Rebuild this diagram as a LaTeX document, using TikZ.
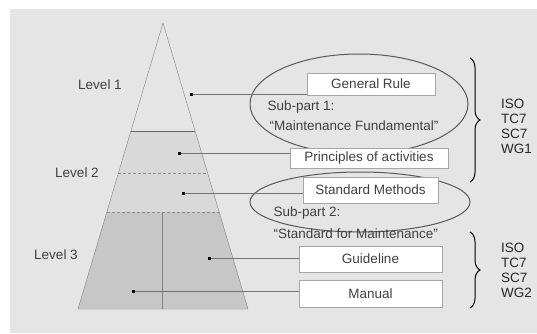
\documentclass[tikz,border=0pt]{standalone}
\usepackage{fontspec}
\setmainfont{Liberation Sans}
\usetikzlibrary{positioning,calc,decorations.pathreplacing}

\begin{document}
\begin{tikzpicture}[x=1pt,y=-1pt,
    every node/.style={font=\fontsize{13.5}{15}\selectfont,text=black!75},
    doc/.style={draw=black!35,fill=white,inner sep=0pt},
    dot/.style={fill=black,inner sep=0pt,minimum size=3pt},
    lead/.style={draw=black!55},
    bracket/.style={decorate,decoration={brace,amplitude=10pt},line width=1pt}]

  \useasboundingbox (0,0) rectangle (537,333);
  % gray background, white strip top and left
  \fill[black!10] (10,9) rectangle (537,333);

  % pyramid corners
  \coordinate (apex) at (163,23);
  \coordinate (bl) at (78,309);
  \coordinate (br) at (248,309);

  % shaded bands of the pyramid
  \begin{scope}
    \clip (apex) -- (br) -- (bl) -- cycle;
    \fill[black!10] (70,20) rectangle (260,131);
    \fill[black!15] (70,131) rectangle (260,212);
    \fill[black!22] (70,212) rectangle (260,310);
  \end{scope}
  \draw[black!50] (apex) -- (br) -- (bl) -- cycle;

  % level borders
  \draw[black!60] ($(apex)!0.378!(bl)$) -- ($(apex)!0.378!(br)$);
  \draw[black!45,densely dashed] ($(apex)!0.525!(bl)$) -- ($(apex)!0.525!(br)$);
  \draw[black!45,densely dashed] ($(apex)!0.661!(bl)$) -- ($(apex)!0.661!(br)$);
  \draw[black!50] (162,212) -- (162,309);

  % level labels
  \node (lv1) at (100,85) {Level 1};
  \node (lv2) at (77,173) {Level 2};
  \node (lv3) at (56,255) {Level 3};

  % ellipses round the sub-parts
  \draw[black!65,line width=1pt] (359,104) ellipse [x radius=109, y radius=50];
  \draw[black!65,line width=1pt] (360,202) ellipse [x radius=110, y radius=30];

  % documents
  \node[doc,minimum width=128pt,minimum height=22pt] (rule) at (371,84) {General Rule};
  \node[doc,minimum width=158pt,minimum height=20pt] (prin) at (369,158) {Principles of activities};
  \node[doc,minimum width=135pt,minimum height=26pt] (meth) at (370.5,190) {Standard Methods};
  \node[doc,minimum width=143pt,minimum height=26pt] (guide) at (370.5,259) {Guideline};
  \node[doc,minimum width=143pt,minimum height=27pt] (man) at (370.5,293.5) {Manual};

  % sub-part captions
  \node[anchor=west] (sp1) at (264,107) {Sub-part 1:};
  \node[anchor=west] (sp1t) at (266,126) {``Maintenance Fundamental''};
  \node[anchor=west] (sp2) at (270,213) {Sub-part 2:};
  \node[anchor=west] (sp2t) at (270,234) {``Standard for Maintenance''};

  % dots in the pyramid and their leaders
  \node[dot] (d1) at (191,94) {};
  \node[dot] (d2) at (179,153) {};
  \node[dot] (d3) at (183,193) {};
  \node[dot] (d4) at (209,258) {};
  \node[dot] (d5) at (133,291) {};
  \draw[lead] (d1) -- (d1 -| rule.west);
  \draw[lead] (d2) -- (d2 -| prin.west);
  \draw[lead] (d3) -- (d3 -| meth.west);
  \draw[lead] (d4) -- (d4 -| guide.west);
  \draw[lead] (d5) -- (d5 -| man.west);

  % braces and committees
  \coordinate (b1t) at (470,58);
  \coordinate (b1b) at (470,182);
  \coordinate (b2t) at (470,232);
  \coordinate (b2b) at (470,308);
  \draw[bracket] (b1t) -- (b1b);
  \draw[bracket] (b2t) -- (b2b);
  \node[anchor=west,align=left,text=black!85,inner sep=1pt] (wg1) at (500,126) {ISO\\TC7\\SC7\\WG1};
  \node[anchor=west,align=left,text=black!85,inner sep=1pt] (wg2) at (500,270) {ISO\\TC7\\SC7\\WG2};
\end{tikzpicture}
\end{document}
